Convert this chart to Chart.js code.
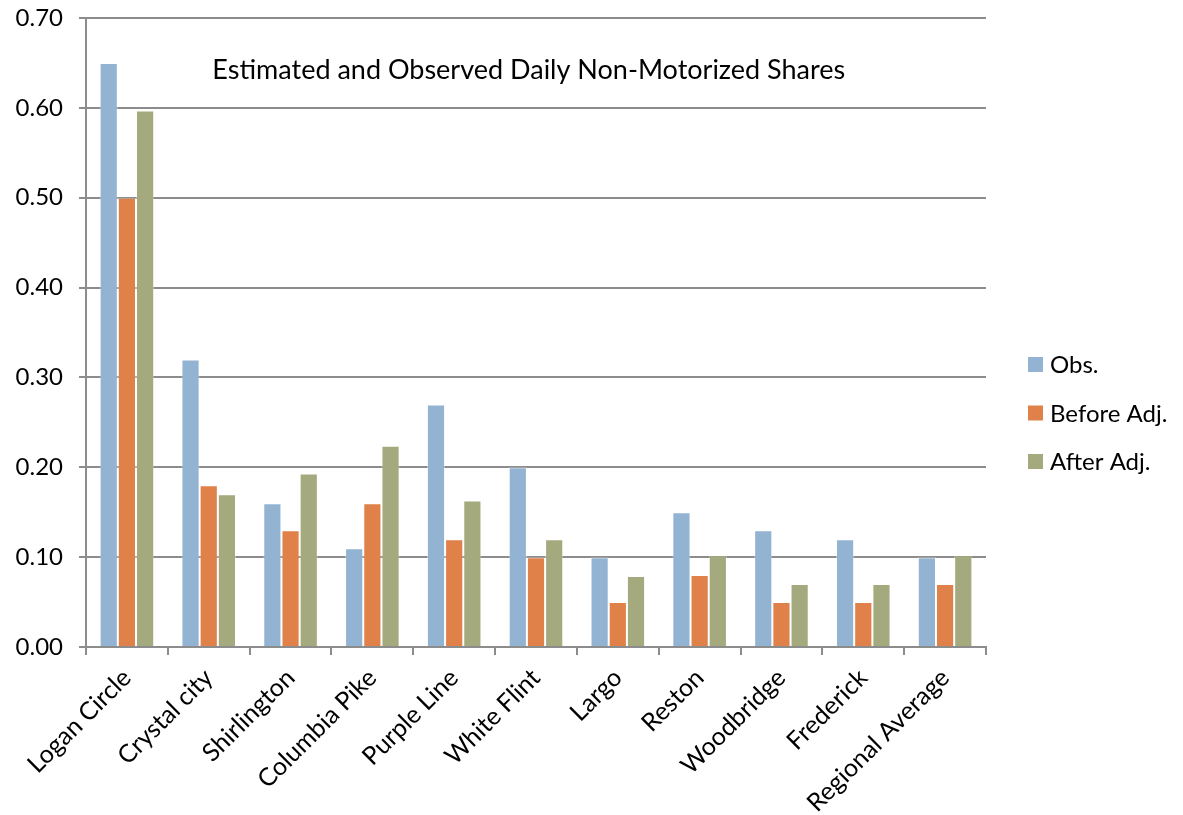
<!DOCTYPE html>
<html>
<head>
<meta charset="utf-8">
<title>Estimated and Observed Daily Non-Motorized Shares</title>
<script src="https://cdn.jsdelivr.net/npm/chart.js@4/dist/chart.umd.min.js"></script>
<style>
  html, body { margin: 0; padding: 0; background: #ffffff; }
  #wrap { width: 1183px; height: 815px; position: relative; }
</style>
</head>
<body>
<div id="wrap"><canvas id="chart"></canvas></div>
<script>
// Study areas along the horizontal axis
const areas = [
  'Logan Circle', 'Crystal city', 'Shirlington', 'Columbia Pike', 'Purple Line',
  'White Flint', 'Largo', 'Reston', 'Woodbridge', 'Frederick', 'Regional Average'
];

// Daily non-motorized shares per area
const observed    = [0.65, 0.32, 0.16, 0.11, 0.27, 0.20, 0.10, 0.15, 0.13, 0.12, 0.10];
const beforeAdj   = [0.50, 0.18, 0.13, 0.16, 0.12, 0.10, 0.05, 0.08, 0.05, 0.05, 0.07];
const afterAdj    = [0.597, 0.170, 0.193, 0.224, 0.163, 0.120, 0.079, 0.102, 0.070, 0.070, 0.102];

const seriesNames = ['Obs.', 'Before Adj.', 'After Adj.'];
const yTicks = [0, 0.1, 0.2, 0.3, 0.4, 0.5, 0.6, 0.7];

const chartTitle = 'Estimated and Observed Daily Non-Motorized Shares';

const FONT = 'Lato, "Open Sans", "DejaVu Sans", sans-serif';
const GRID = '#8c8c8c';

// Title drawn inside the plot area, near its top
const innerTitle = {
  id: 'innerTitle',
  afterDraw(chart) {
    const { ctx, chartArea } = chart;
    ctx.save();
    ctx.font = '27px ' + FONT;
    ctx.fillStyle = '#000000';
    ctx.textAlign = 'center';
    ctx.textBaseline = 'middle';
    ctx.fillText(chartTitle, chartArea.left + chartArea.width * 0.492, chartArea.top + 52);
    ctx.restore();
  }
};

// Legend stacked on the right, built from the datasets
const sideLegend = {
  id: 'sideLegend',
  afterDraw(chart) {
    const { ctx } = chart;
    const boxX = 1028, textX = 1050, firstY = 364.5, step = 48.5, box = 15;
    ctx.save();
    ctx.font = '24px ' + FONT;
    ctx.textAlign = 'left';
    ctx.textBaseline = 'middle';
    chart.data.datasets.forEach((ds, i) => {
      const cy = firstY + i * step;
      ctx.fillStyle = ds.backgroundColor;
      ctx.fillRect(boxX, cy - box / 2, box, box);
      ctx.fillStyle = '#000000';
      ctx.fillText(ds.label, textX, cy + 1);
    });
    ctx.restore();
  }
};

const colors = ['#93b3d3', '#df8149', '#a4aa7e'];
const series = [observed, beforeAdj, afterAdj];

new Chart(document.getElementById('chart'), {
  type: 'bar',
  data: {
    labels: areas,
    datasets: series.map((vals, i) => ({
      label: seriesNames[i],
      data: vals,
      backgroundColor: colors[i],
      borderColor: 'rgba(255,255,255,0.35)',
      borderWidth: 1,
      categoryPercentage: 0.667,
      barPercentage: 1.0
    }))
  },
  options: {
    responsive: true,
    maintainAspectRatio: false,
    animation: false,
    layout: { padding: { top: 18, right: 197, bottom: 0, left: 0 } },
    plugins: {
      legend: { display: false },
      title: { display: false },
      tooltip: { enabled: false }
    },
    scales: {
      x: {
        offset: true,
        grid: {
          offset: true,
          drawOnChartArea: false,
          drawTicks: true,
          tickLength: 8,
          color: GRID,
          lineWidth: 2
        },
        border: { display: true, color: GRID, width: 2 },
        ticks: {
          color: '#000000',
          font: { family: FONT, size: 25 },
          minRotation: 45,
          maxRotation: 45,
          autoSkip: false,
          padding: 8
        },
        afterFit(scale) {
          scale.height = 168;
          scale.paddingLeft = 0;
          scale.paddingRight = 0;
        }
      },
      y: {
        min: 0,
        max: 0.7,
        afterBuildTicks(scale) { scale.ticks = yTicks.map(v => ({ value: v })); },
        grid: {
          drawOnChartArea: true,
          drawTicks: true,
          tickLength: 7,
          color: GRID,
          lineWidth: 2
        },
        border: { display: true, color: GRID, width: 2 },
        ticks: {
          color: '#000000',
          font: { family: FONT, size: 24 },
          padding: 16,
          callback: v => Number(v).toFixed(2)
        },
        afterFit(scale) {
          scale.width = 86;
          scale.paddingTop = 0;
          scale.paddingBottom = 0;
        }
      }
    }
  },
  plugins: [innerTitle, sideLegend]
});
</script>
</body>
</html>
